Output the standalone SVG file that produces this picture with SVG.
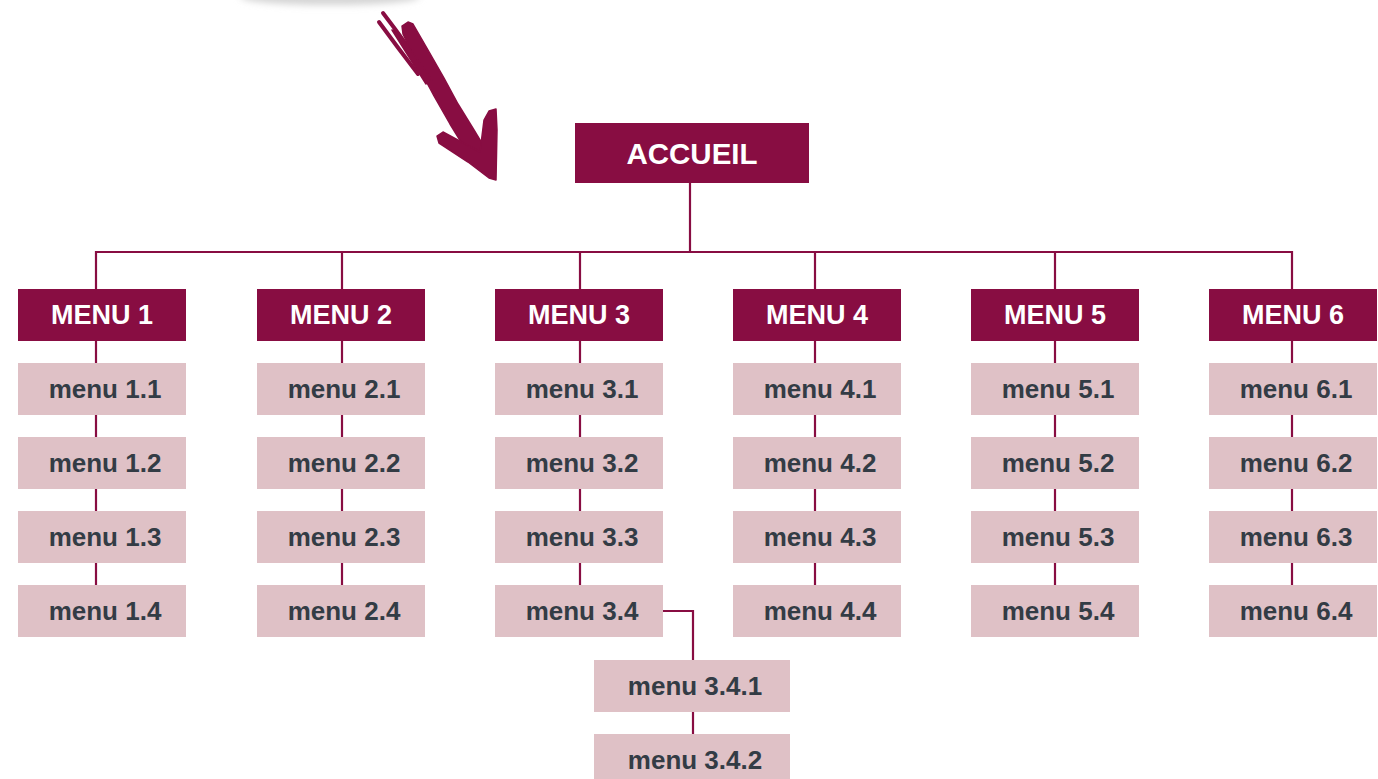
<svg xmlns="http://www.w3.org/2000/svg" width="1378" height="779" viewBox="0 0 1378 779">
<defs>
<filter id="blur" x="-20%" y="-200%" width="140%" height="500%"><feGaussianBlur stdDeviation="3.5"/></filter>
<style>
.main rect{fill:#880d42}
.main text{fill:#ffffff;font-family:"Liberation Sans",Arial,sans-serif;font-weight:bold;font-size:27px;text-anchor:middle}
.sub rect{fill:#dfc1c6}
.sub text{fill:#333c45;font-family:"Liberation Sans",Arial,sans-serif;font-weight:bold;font-size:26px;text-anchor:middle}
.conn{fill:none;stroke:#880d42;stroke-width:2.2}
.arrow{fill:none;stroke:#880d42;stroke-linecap:round;stroke-linejoin:round}
.arrowfill{fill:#880d42;stroke:#880d42;stroke-width:1.5;stroke-linejoin:round}
</style>
</defs>
<rect width="1378" height="779" fill="#ffffff"/>
<ellipse cx="330" cy="-3" rx="90" ry="8" fill="#d4d4d4" filter="url(#blur)"/>
<g id="hand-arrow">
<path class="arrow" d="M383,13 Q410,48 434,86" stroke-width="4"/>
<path class="arrow" d="M379,22 Q398,48 418,74" stroke-width="4"/>
<path class="arrowfill" d="M402,26 L408,22 L413,24 L428,50 L444,78 L458,104 L474,130 L492,160 L490,174 L482,172 L466,150 L450,124 L434,96 L418,66 L403,34 Z"/>
<path class="arrowfill" d="M392,30 L398,32 L432,80 L426,84 Z"/>
<path class="arrowfill" d="M437,136 L443,132 L480,152 L484,120 L489,111 L496,109 L497,130 L496,180 L489,178 L468,162 L439,143 Z"/>
</g>
<g id="connectors">
<path class="conn" d="M690,183 V252"/>
<path class="conn" d="M96,289 V252 H1292 V289"/>
<path class="conn" d="M342,252 V289 M580,252 V289 M815,252 V289 M1055,252 V289"/>
<path class="conn" d="M96,341 V585 M342,341 V585 M580,341 V585 M815,341 V585 M1055,341 V585 M1292,341 V585"/>
<path class="conn" d="M663,611 H693 V660 M693,712 V734"/>
</g>
<g id="accueil" class="main"><rect x="575" y="123" width="234" height="60"/><text x="692" y="164" style="font-size:29.5px">ACCUEIL</text></g>
<g id="menu1" class="main"><rect x="18" y="289" width="168" height="52"/><text x="102" y="324">MENU 1</text></g>
<g id="menu2" class="main"><rect x="257" y="289" width="168" height="52"/><text x="341" y="324">MENU 2</text></g>
<g id="menu3" class="main"><rect x="495" y="289" width="168" height="52"/><text x="579" y="324">MENU 3</text></g>
<g id="menu4" class="main"><rect x="733" y="289" width="168" height="52"/><text x="817" y="324">MENU 4</text></g>
<g id="menu5" class="main"><rect x="971" y="289" width="168" height="52"/><text x="1055" y="324">MENU 5</text></g>
<g id="menu6" class="main"><rect x="1209" y="289" width="168" height="52"/><text x="1293" y="324">MENU 6</text></g>
<g id="m1-1" class="sub"><rect x="18" y="363" width="168" height="52"/><text x="105" y="398">menu 1.1</text></g>
<g id="m1-2" class="sub"><rect x="18" y="437" width="168" height="52"/><text x="105" y="472">menu 1.2</text></g>
<g id="m1-3" class="sub"><rect x="18" y="511" width="168" height="52"/><text x="105" y="546">menu 1.3</text></g>
<g id="m1-4" class="sub"><rect x="18" y="585" width="168" height="52"/><text x="105" y="620">menu 1.4</text></g>
<g id="m2-1" class="sub"><rect x="257" y="363" width="168" height="52"/><text x="344" y="398">menu 2.1</text></g>
<g id="m2-2" class="sub"><rect x="257" y="437" width="168" height="52"/><text x="344" y="472">menu 2.2</text></g>
<g id="m2-3" class="sub"><rect x="257" y="511" width="168" height="52"/><text x="344" y="546">menu 2.3</text></g>
<g id="m2-4" class="sub"><rect x="257" y="585" width="168" height="52"/><text x="344" y="620">menu 2.4</text></g>
<g id="m3-1" class="sub"><rect x="495" y="363" width="168" height="52"/><text x="582" y="398">menu 3.1</text></g>
<g id="m3-2" class="sub"><rect x="495" y="437" width="168" height="52"/><text x="582" y="472">menu 3.2</text></g>
<g id="m3-3" class="sub"><rect x="495" y="511" width="168" height="52"/><text x="582" y="546">menu 3.3</text></g>
<g id="m3-4" class="sub"><rect x="495" y="585" width="168" height="52"/><text x="582" y="620">menu 3.4</text></g>
<g id="m4-1" class="sub"><rect x="733" y="363" width="168" height="52"/><text x="820" y="398">menu 4.1</text></g>
<g id="m4-2" class="sub"><rect x="733" y="437" width="168" height="52"/><text x="820" y="472">menu 4.2</text></g>
<g id="m4-3" class="sub"><rect x="733" y="511" width="168" height="52"/><text x="820" y="546">menu 4.3</text></g>
<g id="m4-4" class="sub"><rect x="733" y="585" width="168" height="52"/><text x="820" y="620">menu 4.4</text></g>
<g id="m5-1" class="sub"><rect x="971" y="363" width="168" height="52"/><text x="1058" y="398">menu 5.1</text></g>
<g id="m5-2" class="sub"><rect x="971" y="437" width="168" height="52"/><text x="1058" y="472">menu 5.2</text></g>
<g id="m5-3" class="sub"><rect x="971" y="511" width="168" height="52"/><text x="1058" y="546">menu 5.3</text></g>
<g id="m5-4" class="sub"><rect x="971" y="585" width="168" height="52"/><text x="1058" y="620">menu 5.4</text></g>
<g id="m6-1" class="sub"><rect x="1209" y="363" width="168" height="52"/><text x="1296" y="398">menu 6.1</text></g>
<g id="m6-2" class="sub"><rect x="1209" y="437" width="168" height="52"/><text x="1296" y="472">menu 6.2</text></g>
<g id="m6-3" class="sub"><rect x="1209" y="511" width="168" height="52"/><text x="1296" y="546">menu 6.3</text></g>
<g id="m6-4" class="sub"><rect x="1209" y="585" width="168" height="52"/><text x="1296" y="620">menu 6.4</text></g>
<g id="m3-4-1" class="sub"><rect x="594" y="660" width="196" height="52"/><text x="695" y="695">menu 3.4.1</text></g>
<g id="m3-4-2" class="sub"><rect x="594" y="734" width="196" height="52"/><text x="695" y="769">menu 3.4.2</text></g>
</svg>
